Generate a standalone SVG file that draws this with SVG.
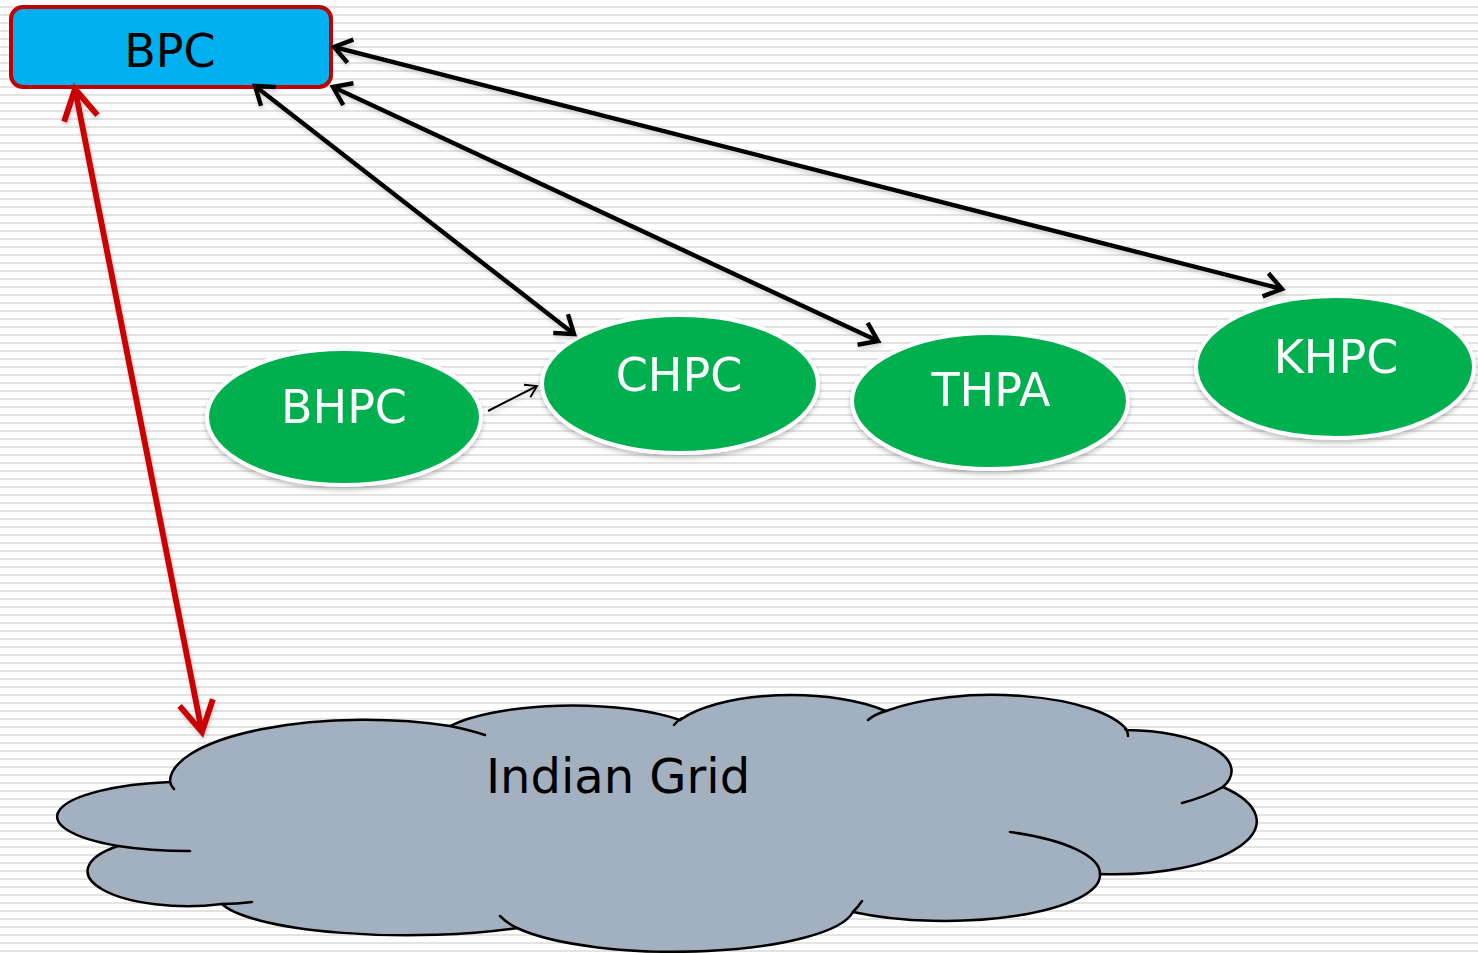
<svg xmlns="http://www.w3.org/2000/svg" width="1478" height="953" viewBox="0 0 1478 953">
  <defs>
    <pattern id="stripes" x="0" y="0" width="8" height="8" patternUnits="userSpaceOnUse">
      <rect x="0" y="6.2" width="8" height="1.6" fill="#dcdcdc"/>
    </pattern>
    <filter id="shadow" x="-10%" y="-10%" width="120%" height="130%">
      <feDropShadow dx="0" dy="3" stdDeviation="2.5" flood-color="#000" flood-opacity="0.25"/>
    </filter>
    <filter id="lineShadow" x="-5%" y="-5%" width="110%" height="110%">
      <feDropShadow dx="1" dy="3" stdDeviation="2" flood-color="#808080" flood-opacity="0.35"/>
    </filter>
    <marker id="blackHead" markerUnits="userSpaceOnUse" viewBox="-24 -14 28 28" refX="0" refY="0" markerWidth="28" markerHeight="28" orient="auto-start-reverse">
      <path d="M-17,-12 L0,0 L-17,12" fill="none" stroke="#000" stroke-width="4.5"/>
    </marker>
    <marker id="thinHead" markerUnits="userSpaceOnUse" viewBox="-16 -10 20 20" refX="0" refY="0" markerWidth="20" markerHeight="20" orient="auto">
      <path d="M-11,-7 L0,0 L-11,7" fill="none" stroke="#000" stroke-width="2"/>
    </marker>
    <marker id="redHead" markerUnits="userSpaceOnUse" viewBox="-36 -22 42 44" refX="0" refY="0" markerWidth="42" markerHeight="44" orient="auto-start-reverse">
      <path d="M-30,-17 L0,0 L-30,17" fill="none" stroke="#cc0000" stroke-width="6"/>
    </marker>
  </defs>
  <style>
    .node-ell { fill: #00b050; stroke: #ffffff; stroke-width: 4; }
    .node-txt { font-family: "DejaVu Sans", "Liberation Sans", sans-serif; font-size: 46px; fill: #ffffff; text-anchor: middle; }
    .conn { fill: none; stroke: #000; stroke-width: 4.5; }
    .cloud-tail { fill: none; stroke: #000; stroke-width: 2.5; stroke-linecap: round; }
  </style>

  <rect x="0" y="0" width="1478" height="953" fill="#ffffff"/>
  <rect x="0" y="0" width="1478" height="953" fill="url(#stripes)"/>

  <g id="indian-grid">
    <path d="M170 782 A195 62 0 0 1 450 726 A140 40 0 0 1 680 720 A125 46 0 0 1 886 711 A140 47 0 0 1 1127 730 A108 41 0 0 1 1223 787 A142 53 0 0 1 1100 874 A155 46 0 0 1 853 912 A180 46 0 0 1 517 928 A190 40 0 0 1 222 904 A100 35 0 0 1 118 846 A133 35 0 0 1 170 782 Z" fill="#a2b0bf" stroke="#000" stroke-width="2.5"/>
    <path class="cloud-tail" d="M170 782 Q171 786 174 789"/>
    <path class="cloud-tail" d="M450 726 A195 62 0 0 1 485 735"/>
    <path class="cloud-tail" d="M674 725 Q677 721 682 718"/>
    <path class="cloud-tail" d="M868 720 Q875 714 886 711"/>
    <path class="cloud-tail" d="M1125 729 Q1128 731 1128 736"/>
    <path class="cloud-tail" d="M1223 787 Q1205 797 1182 803"/>
    <path class="cloud-tail" d="M1010 832 A155 46 0 0 1 1100 874"/>
    <path class="cloud-tail" d="M853 912 Q858 907 862 901"/>
    <path class="cloud-tail" d="M517 928 Q507 923 500 916"/>
    <path class="cloud-tail" d="M222 904 Q237 904 252 902"/>
    <path class="cloud-tail" d="M118 846 Q150 851 190 851"/>
    <text x="618" y="793" font-family="DejaVu Sans, Liberation Sans, sans-serif" font-size="48" fill="#000" text-anchor="middle">Indian Grid</text>
  </g>

  <g id="BPC">
    <rect x="11" y="7" width="320" height="80" rx="12" ry="12" fill="#00b0f0" stroke="#c00000" stroke-width="4"/>
    <text x="170" y="67" font-family="DejaVu Sans, Liberation Sans, sans-serif" font-size="46" fill="#000" text-anchor="middle">BPC</text>
  </g>

  <g id="BHPC" filter="url(#shadow)">
    <ellipse class="node-ell" cx="344" cy="417" rx="137" ry="68"/>
    <text class="node-txt" x="344" y="423">BHPC</text>
  </g>
  <g id="CHPC" filter="url(#shadow)">
    <ellipse class="node-ell" cx="680" cy="384" rx="138" ry="69"/>
    <text class="node-txt" x="679" y="391">CHPC</text>
  </g>
  <g id="THPA" filter="url(#shadow)">
    <ellipse class="node-ell" cx="990" cy="401" rx="138" ry="68"/>
    <text class="node-txt" x="991" y="406">THPA</text>
  </g>
  <g id="KHPC" filter="url(#shadow)">
    <ellipse class="node-ell" cx="1335" cy="367" rx="139" ry="71"/>
    <text class="node-txt" x="1336" y="373">KHPC</text>
  </g>

  <g id="connectors" filter="url(#lineShadow)">
    <line class="conn" x1="334" y1="47" x2="1282" y2="289" marker-start="url(#blackHead)" marker-end="url(#blackHead)"/>
    <line class="conn" x1="333" y1="87" x2="878" y2="341" marker-start="url(#blackHead)" marker-end="url(#blackHead)"/>
    <line class="conn" x1="255" y1="86" x2="574" y2="334" marker-start="url(#blackHead)" marker-end="url(#blackHead)"/>
    <line x1="488" y1="411" x2="537" y2="386" stroke="#000" stroke-width="2" marker-end="url(#thinHead)"/>
    <line x1="75" y1="89" x2="202" y2="732" stroke="#cc0000" stroke-width="6" marker-start="url(#redHead)" marker-end="url(#redHead)"/>
  </g>
</svg>
